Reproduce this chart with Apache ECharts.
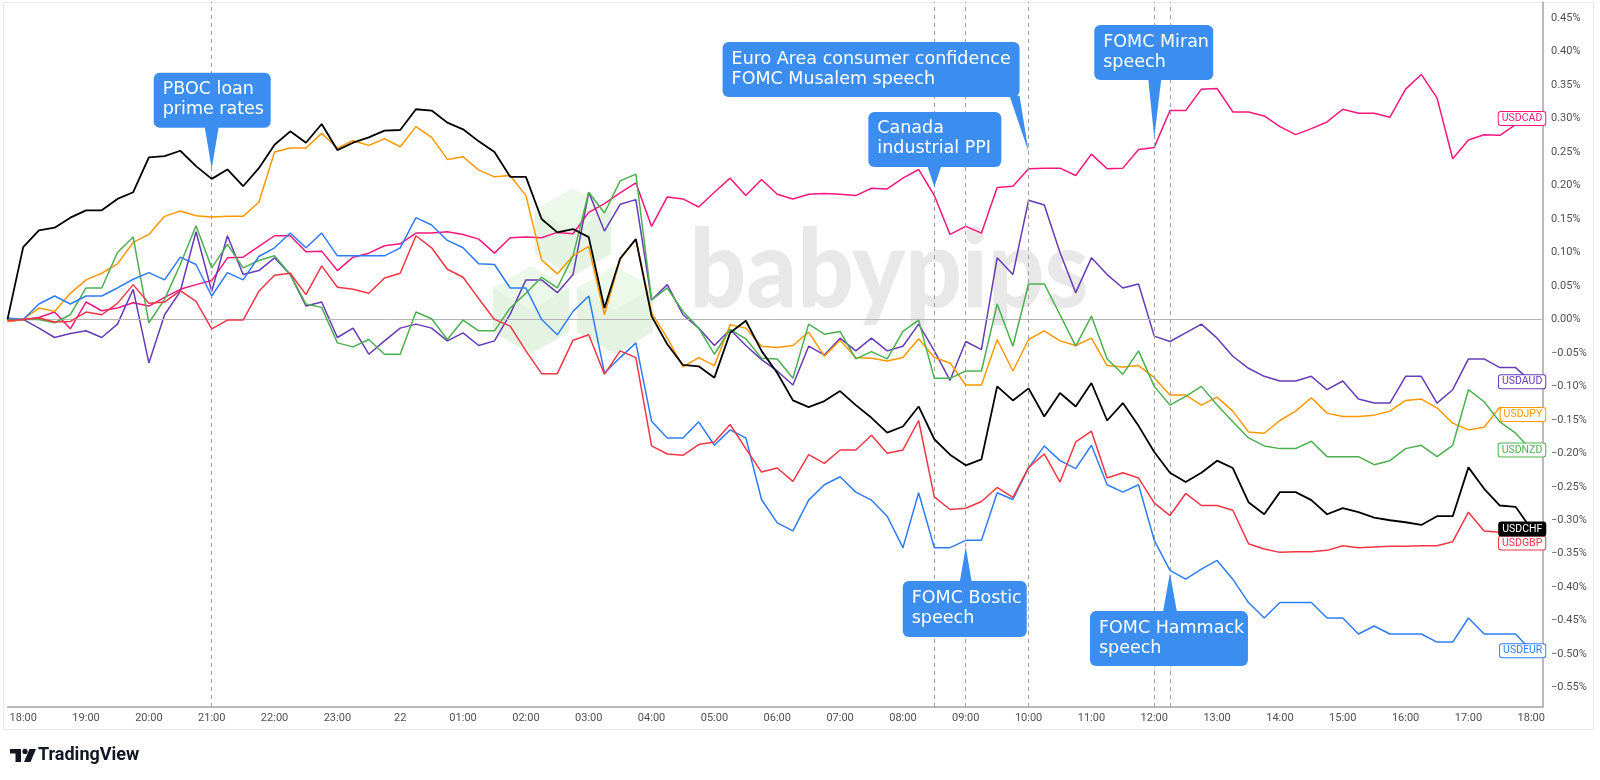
<!DOCTYPE html>
<html><head><meta charset="utf-8">
<script src="https://cdn.jsdelivr.net/npm/echarts@6/dist/echarts.min.js"></script>
<style>html,body{margin:0;padding:0;background:#fff}#c{width:1600px;height:780px}</style>
</head><body><div id="c"></div>
<script>
// ---------- DATA ----------
const startMinute = -15;   // 17:45, minutes from 18:00
const stepMinutes = 15;
const xTickMinutes = [0,60,120,180,240,300,360,420,480,540,600,660,720,780,840,900,960,1020,1080,1140,1200,1260,1320,1380,1440];
const xTickLabels = ['18:00','19:00','20:00','21:00','22:00','23:00','22','01:00','02:00','03:00','04:00','05:00','06:00','07:00','08:00','09:00','10:00','11:00','12:00','13:00','14:00','15:00','16:00','17:00','18:00'];
const yTicks = [-0.55,-0.5,-0.45,-0.4,-0.35,-0.3,-0.25,-0.2,-0.15,-0.1,-0.05,0,0.05,0.1,0.15,0.2,0.25,0.3,0.35,0.4,0.45];

const usdcad = [-0.003,0.000,0.003,0.011,-0.014,0.026,0.013,0.017,0.025,0.020,0.033,0.045,0.052,0.058,0.092,0.093,0.109,0.125,0.125,0.101,0.102,0.073,0.093,0.099,0.110,0.113,0.129,0.129,0.131,0.127,0.120,0.099,0.122,0.123,0.122,0.130,0.128,0.160,0.173,0.189,0.204,0.139,0.183,0.180,0.168,0.190,0.211,0.185,0.209,0.187,0.180,0.187,0.188,0.187,0.185,0.196,0.195,0.211,0.224,0.185,0.127,0.139,0.129,0.197,0.199,0.225,0.226,0.226,0.215,0.247,0.225,0.226,0.254,0.257,0.312,0.312,0.344,0.345,0.310,0.310,0.304,0.288,0.276,0.285,0.295,0.314,0.308,0.308,0.302,0.344,0.366,0.331,0.240,0.268,0.276,0.275,0.291,0.300];
const usdaud = [0,0,-0.013,-0.027,-0.021,-0.017,-0.027,-0.007,0.045,-0.065,0.007,0.042,0.131,0.042,0.125,0.067,0.073,0.092,0.067,0.020,0.026,-0.027,-0.013,-0.052,-0.032,-0.013,-0.007,-0.013,-0.032,-0.020,-0.039,-0.032,0.008,0.059,0.059,0.040,0.067,0.190,0.132,0.172,0.179,0.029,0.052,0.007,-0.013,-0.039,-0.015,-0.039,-0.060,-0.077,-0.098,-0.040,-0.053,-0.028,-0.047,-0.028,-0.047,-0.040,-0.007,-0.047,-0.091,-0.033,-0.045,0.092,0.067,0.178,0.171,0.100,0.040,0.092,0.067,0.047,0.053,-0.025,-0.033,-0.020,-0.007,-0.028,-0.055,-0.073,-0.085,-0.092,-0.092,-0.085,-0.105,-0.092,-0.119,-0.125,-0.125,-0.085,-0.085,-0.125,-0.105,-0.059,-0.059,-0.072,-0.072,-0.093];
const usdjpy = [-0.003,0.000,0.017,0.012,0.039,0.059,0.069,0.083,0.115,0.127,0.154,0.162,0.155,0.153,0.154,0.154,0.175,0.250,0.256,0.256,0.278,0.256,0.267,0.260,0.270,0.258,0.288,0.272,0.239,0.243,0.223,0.213,0.215,0.185,0.089,0.068,0.095,0.109,0.007,0.090,0.120,0.010,-0.028,-0.071,-0.057,-0.069,-0.008,-0.013,-0.040,-0.042,-0.039,-0.019,-0.055,-0.031,-0.057,-0.058,-0.062,-0.057,-0.029,-0.057,-0.065,-0.098,-0.098,-0.030,-0.077,-0.030,-0.017,-0.032,-0.039,-0.028,-0.069,-0.071,-0.069,-0.087,-0.113,-0.113,-0.128,-0.116,-0.137,-0.168,-0.170,-0.151,-0.137,-0.117,-0.140,-0.145,-0.145,-0.143,-0.137,-0.121,-0.119,-0.132,-0.155,-0.165,-0.161,-0.131,-0.143,-0.142];
const usdnzd = [0,0,0,-0.005,0.007,0.047,0.047,0.100,0.123,-0.005,0.030,0.082,0.140,0.077,0.112,0.077,0.088,0.095,0.067,0.023,0.018,-0.035,-0.041,-0.030,-0.052,-0.052,0.011,0.001,-0.030,-0.001,-0.017,-0.017,0.017,0.039,0.063,0.047,0.095,0.190,0.159,0.207,0.217,0.029,0.047,0.012,-0.013,-0.052,-0.015,-0.029,-0.058,-0.059,-0.088,-0.007,-0.022,-0.018,-0.059,-0.048,-0.059,-0.018,-0.001,-0.088,-0.088,-0.077,-0.077,0.023,-0.040,0.053,0.053,0.007,-0.040,0.005,-0.059,-0.082,-0.047,-0.100,-0.128,-0.115,-0.100,-0.128,-0.153,-0.177,-0.189,-0.193,-0.193,-0.182,-0.205,-0.205,-0.205,-0.217,-0.211,-0.193,-0.188,-0.205,-0.188,-0.105,-0.123,-0.153,-0.170,-0.195];
const usdeur = [0.002,0.000,0.023,0.035,0.023,0.035,0.035,0.047,0.060,0.070,0.059,0.093,0.082,0.035,0.070,0.059,0.094,0.107,0.129,0.107,0.129,0.095,0.095,0.095,0.095,0.107,0.152,0.141,0.118,0.107,0.083,0.082,0.047,0.047,0.000,-0.023,0.012,0.035,-0.080,-0.057,-0.035,-0.152,-0.177,-0.177,-0.153,-0.188,-0.165,-0.177,-0.269,-0.304,-0.316,-0.270,-0.247,-0.235,-0.258,-0.270,-0.294,-0.341,-0.259,-0.341,-0.341,-0.330,-0.330,-0.259,-0.269,-0.222,-0.189,-0.211,-0.223,-0.188,-0.247,-0.258,-0.247,-0.330,-0.375,-0.388,-0.373,-0.360,-0.388,-0.423,-0.446,-0.423,-0.423,-0.423,-0.446,-0.446,-0.470,-0.458,-0.470,-0.470,-0.470,-0.482,-0.482,-0.446,-0.470,-0.470,-0.470,-0.495];
const usdgbp = [-0.002,0.000,0.002,-0.004,-0.003,0.011,0.007,0.024,0.052,0.024,0.026,0.043,0.027,-0.014,-0.001,-0.001,0.042,0.066,0.069,0.037,0.080,0.048,0.045,0.039,0.062,0.069,0.125,0.107,0.075,0.063,0.031,0.000,-0.010,-0.047,-0.081,-0.081,-0.031,-0.023,-0.082,-0.047,-0.057,-0.189,-0.201,-0.203,-0.187,-0.183,-0.157,-0.193,-0.228,-0.222,-0.242,-0.202,-0.215,-0.195,-0.195,-0.173,-0.200,-0.195,-0.151,-0.265,-0.284,-0.282,-0.272,-0.251,-0.266,-0.221,-0.201,-0.243,-0.183,-0.167,-0.237,-0.229,-0.237,-0.274,-0.293,-0.260,-0.278,-0.278,-0.285,-0.335,-0.343,-0.348,-0.347,-0.347,-0.345,-0.338,-0.341,-0.340,-0.339,-0.339,-0.338,-0.338,-0.332,-0.288,-0.316,-0.318,-0.316,-0.334];
const usdchf = [0,0.108,0.133,0.137,0.152,0.163,0.163,0.180,0.190,0.242,0.244,0.252,0.229,0.210,0.224,0.199,0.226,0.261,0.281,0.264,0.292,0.253,0.264,0.272,0.282,0.283,0.314,0.312,0.294,0.284,0.266,0.250,0.213,0.213,0.150,0.130,0.135,0.123,0.017,0.091,0.120,0.005,-0.037,-0.068,-0.070,-0.087,-0.020,-0.002,-0.047,-0.080,-0.121,-0.131,-0.122,-0.107,-0.128,-0.147,-0.169,-0.160,-0.130,-0.179,-0.202,-0.218,-0.209,-0.100,-0.121,-0.103,-0.145,-0.110,-0.130,-0.095,-0.151,-0.125,-0.159,-0.198,-0.229,-0.243,-0.229,-0.211,-0.222,-0.273,-0.291,-0.258,-0.258,-0.270,-0.291,-0.282,-0.288,-0.296,-0.300,-0.303,-0.307,-0.294,-0.294,-0.221,-0.253,-0.278,-0.280,-0.313];

const seriesNames = ['USDCAD','USDAUD','USDJPY','USDNZD','USDEUR','USDGBP','USDCHF'];
const seriesValues = [usdcad, usdaud, usdjpy, usdnzd, usdeur, usdgbp, usdchf];

const eventTimes = [180, 870, 900, 960, 1080, 1095];   // minutes from 18:00 (dashed lines)
const events = [
  {lines:['PBOC loan','prime rates'], time:180, value:0.225},
  {lines:['Euro Area consumer confidence','FOMC Musalem speech'], time:960, value:0.250},
  {lines:['Canada','industrial PPI'], time:870, value:0.198},
  {lines:['FOMC Miran','speech'], time:1080, value:0.271},
  {lines:['FOMC Bostic','speech'], time:900, value:-0.340},
  {lines:['FOMC Hammack','speech'], time:1095, value:-0.379}
];

// ---------- STYLE / LAYOUT ----------
const seriesColors = ['#f7167d','#673ab7','#ff9800','#4caf50','#2f7cf6','#f23645','#000000'];
const calloutLayout = [
  {dx:-58, dy:-96, w:117, h:55, base:[-7,7]},
  {dx:-306, dy:-110, w:297, h:55, base:[-19,-9]},
  {dx:-66, dy:-75, w:133, h:55, base:[-7,7]},
  {dx:-60, dy:-113, w:119, h:55, base:[-6,7]},
  {dx:-63, dy:34, w:124, h:56, base:[-6,6]},
  {dx:-80, dy:38, w:158, h:55, base:[-7,7]}
];
const calloutColor = '#3b8ef0';
const labelFont = 'Roboto, "Liberation Sans", sans-serif';

const chart = echarts.init(document.getElementById('c'), null, {renderer:'canvas', width:1600, height:780});
const times = usdcad.map((_, i) => startMinute + i * stepMinutes);

function fmtPct(v){
  const r = Math.round(v*100)/100;
  return (r < 0 ? '\u2212' : '') + Math.abs(r).toFixed(2) + '%';
}

const series = seriesNames.map((name, k) => {
  const col = seriesColors[k];
  const isChf = name === 'USDCHF';
  const s = {
    name, type:'line', symbol:'none', silent:true, animation:false,
    data: seriesValues[k].map((v,i)=>[times[i], v]),
    lineStyle:{color:col, width: isChf ? 1.8 : 1.5},
    itemStyle:{color:col},
    z: 2 + k,
    endLabel:{
      show:true, formatter:'{a}', align:'right', distance:14,
      color: isChf ? '#ffffff' : col,
      backgroundColor: isChf ? '#000000' : '#ffffff',
      borderColor: col, borderWidth:1, borderRadius:2,
      padding:[1,3,0,3], fontSize:10.5, fontFamily:labelFont, lineHeight:12
    }
  };
  if (k === 0) {
    s.markLine = {
      silent:true, symbol:['none','none'], animation:false, label:{show:false},
      data: [
        {yAxis:0, lineStyle:{color:'#b5b5b5', width:1, type:'solid'}},
        ...eventTimes.map(t => ({xAxis:t, lineStyle:{color:'#9e9e9e', width:1, type:[4,4]}}))
      ]
    };
  }
  return s;
});

// watermark hexagons
function hexPoints(cx, cy, r){
  const pts = [];
  for (let a = -90; a < 270; a += 60) {
    const rad = a*Math.PI/180;
    pts.push([cx + r*Math.cos(rad), cy + r*Math.sin(rad)]);
  }
  return pts;
}
const hexCenters = [[573,232],[531,310],[615,310]];
const staticGraphics = [];
hexCenters.forEach(c => {
  const p = hexPoints(c[0], c[1], 44);
  staticGraphics.push({type:'polygon', z:-5, silent:true, shape:{points:p}, style:{fill:'#e5f4e2'}});
  staticGraphics.push({type:'polygon', z:-4, silent:true, shape:{points:[[c[0],c[1]],p[5],p[0],p[1]]}, style:{fill:'#ecf8ea'}});
});
staticGraphics.push({
  type:'text', z:-3, silent:true, x:889, y:272, scaleX:0.92,
  style:{text:'babypips', font:'900 108px Lato, "Open Sans", sans-serif', fill:'#e8e8e8', align:'center', verticalAlign:'middle'}
});
// frame
staticGraphics.push({type:'rect', z:-6, silent:true, shape:{x:3.5, y:2.5, width:1590, height:727}, style:{fill:null, stroke:'#e8e8ea', lineWidth:1}});
// TradingView logo
staticGraphics.push({type:'rect', silent:true, shape:{x:10, y:749, width:11, height:4.5}, style:{fill:'#131722'}});
staticGraphics.push({type:'rect', silent:true, shape:{x:15.5, y:749, width:5.5, height:13}, style:{fill:'#131722'}});
staticGraphics.push({type:'circle', silent:true, shape:{cx:25, cy:751.4, r:2.6}, style:{fill:'#131722'}});
staticGraphics.push({type:'polygon', silent:true, shape:{points:[[29.5,749],[36,749],[30.5,762],[24,762]]}, style:{fill:'#131722'}});
staticGraphics.push({type:'text', silent:true, x:38, y:755.5, style:{text:'TradingView', font:'bold 18px Roboto, sans-serif', fill:'#131722', verticalAlign:'middle'}});

const option = {
  animation:false,
  backgroundColor:'#ffffff',
  grid:{left:7.5, right:57, top:2, bottom:73, containLabel:false, outerBoundsMode:'none'},
  xAxis:{
    type:'value', min:-15, max:1451.2,
    axisLine:{show:true, onZero:false, lineStyle:{color:'#a3a3a3', width:1.5}},
    axisTick:{show:false},
    splitLine:{show:false},
    axisLabel:{customValues:xTickMinutes, margin:6, color:'#505050', fontSize:11, fontFamily:labelFont,
      formatter:v => xTickLabels[xTickMinutes.indexOf(Math.round(v))] || ''}
  },
  yAxis:{
    type:'value', position:'right', min:-0.579, max:0.4742,
    axisLine:{show:true, onZero:false, lineStyle:{color:'#a3a3a3', width:1.5}},
    axisTick:{show:false},
    splitLine:{show:false},
    axisLabel:{customValues:yTicks, margin:8, color:'#505050', fontSize:11, fontFamily:labelFont, formatter:fmtPct}
  },
  series,
  graphic: staticGraphics
};
chart.setOption(option);

// callouts anchored to data coordinates
const calloutGraphics = [];
events.forEach((ev, k) => {
  const L = calloutLayout[k];
  const tip = chart.convertToPixel({xAxisIndex:0, yAxisIndex:0}, [ev.time, ev.value]);
  const bx = tip[0] + L.dx, by = tip[1] + L.dy;
  const below = L.dy > 0;
  const baseY = below ? by + 1 : by + L.h - 1;
  calloutGraphics.push({type:'polygon', z:100, silent:true,
    shape:{points:[[tip[0]+L.base[0], baseY],[tip[0]+L.base[1], baseY],[tip[0], tip[1]]]},
    style:{fill:calloutColor}});
  calloutGraphics.push({type:'rect', z:100, silent:true,
    shape:{x:bx, y:by, width:L.w, height:L.h, r:6}, style:{fill:calloutColor}});
  ev.lines.forEach((t, j) => {
    calloutGraphics.push({type:'text', z:101, silent:true, x:bx+9, y:by+17+20*j,
      style:{text:t, font:'17.5px "DejaVu Sans", Verdana, sans-serif', fill:'#ffffff', verticalAlign:'middle'}});
  });
});
chart.setOption({graphic: staticGraphics.concat(calloutGraphics)});
</script>
</body></html>
